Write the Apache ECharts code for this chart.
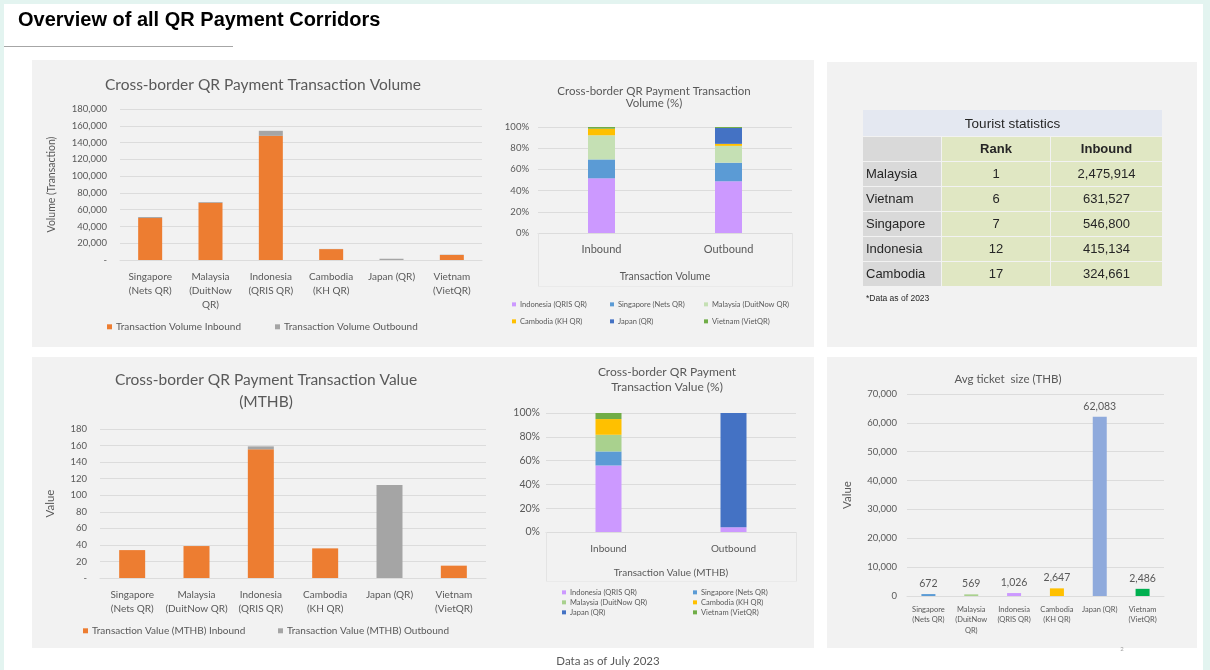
<!DOCTYPE html>
<html>
<head>
<meta charset="utf-8">
<script src="https://cdn.jsdelivr.net/npm/echarts@6/dist/echarts.min.js"></script>
<style>
html,body{margin:0;padding:0;background:#e3f4f0;}
#page{position:absolute;left:4px;top:4px;width:1199px;height:666px;background:#fff;}
.panel{position:absolute;background:#f2f2f2;}
#uline{position:absolute;left:4px;top:46px;width:229px;height:1px;background:#a6a6a6;}
#c{position:absolute;left:0;top:0;width:1210px;height:670px;}
</style>
</head>
<body>
<div id="page"></div>
<div class="panel" style="left:32px;top:60px;width:782px;height:287px;"></div>
<div class="panel" style="left:827px;top:62px;width:370px;height:285px;"></div>
<div class="panel" style="left:32px;top:357px;width:782px;height:291px;"></div>
<div class="panel" style="left:827px;top:357px;width:370px;height:291px;"></div>
<div id="uline"></div>
<div id="c"></div>
<script>
// ---------------- DATA ----------------
const volCategories = ['Singapore\n(Nets QR)', 'Malaysia\n(DuitNow\nQR)', 'Indonesia\n(QRIS QR)', 'Cambodia\n(KH QR)', 'Japan (QR)', 'Vietnam\n(VietQR)'];
const volInbound = [50000, 68200, 148000, 13000, 0, 6000];
const volOutbound = [1200, 900, 6000, 200, 1500, 300];

const valCategories = ['Singapore\n(Nets QR)', 'Malaysia\n(DuitNow QR)', 'Indonesia\n(QRIS QR)', 'Cambodia\n(KH QR)', 'Japan (QR)', 'Vietnam\n(VietQR)'];
const valInbound = [33.7, 38.6, 155.5, 35.8, 0, 14.9];
const valOutbound = [0, 0, 3.5, 0, 112.5, 0];

const shareCategories = ['Inbound', 'Outbound'];
const shareSeriesNames = ['Indonesia (QRIS QR)', 'Singapore (Nets QR)', 'Malaysia (DuitNow QR)', 'Cambodia (KH QR)', 'Japan (QR)', 'Vietnam (VietQR)'];
const volShareInbound = [51.6, 17.8, 22.8, 6.2, 0, 1.6];
const volShareOutbound = [48.8, 17.5, 15.9, 1.9, 15.0, 0.9];
const valShareInbound = [55.9, 11.8, 14.0, 13.2, 0, 5.1];
const valShareOutbound = [4.0, 0, 0, 0, 96.0, 0];

const ticketCategories = ['Singapore\n(Nets QR)', 'Malaysia\n(DuitNow\nQR)', 'Indonesia\n(QRIS QR)', 'Cambodia\n(KH QR)', 'Japan (QR)', 'Vietnam\n(VietQR)'];
const ticketValues = [672, 569, 1026, 2647, 62083, 2486];

const touristCountries = ['Malaysia', 'Vietnam', 'Singapore', 'Indonesia', 'Cambodia'];
const touristRanks = [1, 6, 7, 12, 17];
const touristInbound = [2475914, 631527, 546800, 415134, 324661];

// ---------------- STYLE ----------------
const FONT = 'Lato, "Noto Sans", sans-serif';
const ARIAL = '"Liberation Sans", Arial, sans-serif';
const TXT = '#595959';
const GL = '#dcdcdc';
const ORANGE = '#ed7d31', GRAY = '#a5a5a5';
const volShareColors = ['#cc99ff', '#5b9bd5', '#c5e0b4', '#ffc000', '#4472c4', '#70ad47'];
const valShareColors = ['#cc99ff', '#5b9bd5', '#a9d18e', '#ffc000', '#4472c4', '#70ad47'];
const ticketColors = ['#5b9bd5', '#a9d18e', '#cc99ff', '#ffc000', '#8faadc', '#00b050'];

const comma = v => Number(v).toLocaleString('en-US');
const dashZero = v => v === 0 ? '-' : comma(v);
const pct = v => v + '%';

function catAxis(gi, data, fs, lh, margin, extra) {
  return Object.assign({
    type: 'category', gridIndex: gi, data: data,
    axisTick: {show: false},
    axisLine: {lineStyle: {color: GL}},
    axisLabel: {color: TXT, fontSize: fs, lineHeight: lh, margin: margin, fontFamily: FONT, interval: 0}
  }, extra || {});
}
function valAxis(gi, max, interval, fmt, fs, margin, extra) {
  return Object.assign({
    type: 'value', gridIndex: gi, min: 0, max: max, interval: interval,
    axisLine: {show: false}, axisTick: {show: false},
    splitLine: {lineStyle: {color: GL}},
    axisLabel: {color: TXT, fontSize: fs, margin: margin, fontFamily: FONT, formatter: fmt}
  }, extra || {});
}
function axisName(name, gap, fs) {
  return {name: name, nameLocation: 'middle', nameGap: gap,
    nameTextStyle: {color: TXT, fontSize: fs, fontFamily: FONT}};
}
function leg(name, left, cy, color, fs, size) {
  return {
    data: [{name: name, itemStyle: {color: color}}],
    left: left, top: cy - fs * 0.62, padding: 0, itemGap: 0,
    itemWidth: size, itemHeight: size, icon: 'rect', selectedMode: false,
    textStyle: {color: TXT, fontSize: fs, fontFamily: FONT, padding: [0, 0, 0, -1]}
  };
}
function ttl(text, x, top, fs, lh) {
  return {text: text, left: x, top: top, textAlign: 'center', padding: 0,
    textStyle: {color: TXT, fontSize: fs, fontWeight: 'normal', fontFamily: FONT, lineHeight: lh}};
}

// ---------------- SERIES ----------------
const series = [
  {type: 'bar', name: 'Transaction Volume Inbound', xAxisIndex: 0, yAxisIndex: 0, stack: 'vol', barWidth: 24, data: volInbound, itemStyle: {color: ORANGE}},
  {type: 'bar', name: 'Transaction Volume Outbound', xAxisIndex: 0, yAxisIndex: 0, stack: 'vol', barWidth: 24, data: volOutbound, itemStyle: {color: GRAY}},
  {type: 'bar', name: 'Transaction Value (MTHB) Inbound', xAxisIndex: 2, yAxisIndex: 2, stack: 'val', barWidth: 26, data: valInbound, itemStyle: {color: ORANGE}},
  {type: 'bar', name: 'Transaction Value (MTHB) Outbound', xAxisIndex: 2, yAxisIndex: 2, stack: 'val', barWidth: 26, data: valOutbound, itemStyle: {color: GRAY}},
  {type: 'bar', name: 'Avg ticket size', xAxisIndex: 4, yAxisIndex: 4, barWidth: 14,
    data: ticketValues.map((v, i) => ({value: v, itemStyle: {color: ticketColors[i]}})),
    label: {show: true, position: 'top', distance: 5, color: TXT, fontSize: 10.5, fontFamily: FONT, formatter: p => comma(p.value)}}
];
shareSeriesNames.forEach((n, i) => {
  series.push({type: 'bar', name: n, xAxisIndex: 1, yAxisIndex: 1, stack: 'vs', barWidth: 27,
    data: [volShareInbound[i], volShareOutbound[i]], itemStyle: {color: volShareColors[i]}});
});
shareSeriesNames.forEach((n, i) => {
  series.push({type: 'bar', name: n, xAxisIndex: 3, yAxisIndex: 3, stack: 'ws', barWidth: 26,
    data: [valShareInbound[i], valShareOutbound[i]], itemStyle: {color: valShareColors[i]}});
});

// ---------------- LEGENDS ----------------
const legends = [
  leg('Transaction Volume Inbound', 107, 328, ORANGE, 10, 5),
  leg('Transaction Volume Outbound', 275, 328, GRAY, 10, 5),
  leg('Transaction Value (MTHB) Inbound', 83, 632, ORANGE, 10, 5),
  leg('Transaction Value (MTHB) Outbound', 278, 632, GRAY, 10, 5)
];
const volLegCols = [512, 610, 704], volLegRows = [305, 322];
shareSeriesNames.forEach((n, i) => {
  legends.push(leg(n, volLegCols[i % 3], volLegRows[Math.floor(i / 3)], volShareColors[i], 7.5, 4));
});
const valLegCols = [562, 693], valLegRows = [593, 603, 613];
shareSeriesNames.forEach((n, i) => {
  legends.push(leg(n, valLegCols[i % 2], valLegRows[Math.floor(i / 2)], valShareColors[i], 7.5, 4));
});

// ---------------- TABLE (graphic) ----------------
const graphics = [];
const TB = {x: 863, y: 110, w: 299, titleH: 26, rowH: 25, colX: [863, 942, 1051], colW: [78, 108, 111]};
const TGREY = '#d9d9d9', TGREEN = '#e0e7c3', TBLUE = '#e4e8f1', TTXT = '#262626';
function txt(text, x, y, size, align, weight) {
  return {type: 'text', z: 10, style: {text: text, x: x, y: y, fill: TTXT,
    font: (weight || 'normal') + ' ' + size + 'px ' + ARIAL,
    align: align, verticalAlign: 'middle', textAlign: align, textVerticalAlign: 'middle'}};
}
function cell(x, y, w, h, fill) {
  return {type: 'rect', z: 9, shape: {x: x, y: y, width: w, height: h}, style: {fill: fill}};
}
graphics.push(cell(TB.x, TB.y, TB.w, TB.titleH, TBLUE));
graphics.push(txt('Tourist statistics', TB.x + TB.w / 2, TB.y + TB.titleH / 2 + 1, 13.5, 'center'));
const headY = TB.y + TB.titleH + 1;
graphics.push(cell(TB.colX[0], headY, TB.colW[0], TB.rowH - 1, TGREY));
graphics.push(cell(TB.colX[1], headY, TB.colW[1], TB.rowH - 1, TGREEN));
graphics.push(cell(TB.colX[2], headY, TB.colW[2], TB.rowH - 1, TGREEN));
graphics.push(txt('Rank', TB.colX[1] + TB.colW[1] / 2, headY + 12, 13, 'center', 'bold'));
graphics.push(txt('Inbound', TB.colX[2] + TB.colW[2] / 2, headY + 12, 13, 'center', 'bold'));
touristCountries.forEach((c, i) => {
  const y = headY + TB.rowH * (i + 1);
  graphics.push(cell(TB.colX[0], y, TB.colW[0], TB.rowH - 1, TGREY));
  graphics.push(cell(TB.colX[1], y, TB.colW[1], TB.rowH - 1, TGREEN));
  graphics.push(cell(TB.colX[2], y, TB.colW[2], TB.rowH - 1, TGREEN));
  graphics.push(txt(c, TB.colX[0] + 3, y + 12.5, 13, 'left'));
  graphics.push(txt(String(touristRanks[i]), TB.colX[1] + TB.colW[1] / 2, y + 12.5, 13, 'center'));
  graphics.push(txt(comma(touristInbound[i]), TB.colX[2] + TB.colW[2] / 2, y + 12.5, 13, 'center'));
});
graphics.push(txt('*Data as of 2023', 866, 299, 8.5, 'left'));

// multi-level category separators for the two % charts (very faint)
function vline(x, y1, y2) {
  return {type: 'line', z: 1, shape: {x1: x, y1: y1, x2: x, y2: y2}, style: {stroke: '#e4e4e4', lineWidth: 1}};
}
function hline(x1, x2, y) {
  return {type: 'line', z: 1, shape: {x1: x1, y1: y, x2: x2, y2: y}, style: {stroke: '#eaeaea', lineWidth: 1}};
}
graphics.push(vline(538.5, 233, 287), vline(792.5, 233, 287), hline(538, 793, 286.5));
graphics.push(vline(546.5, 532, 582), vline(796.5, 532, 582), hline(546, 797, 581.5));

// footer texts
graphics.push({type: 'text', z: 10, style: {text: 'Data as of July 2023', x: 608, y: 661, fill: TXT,
  font: 'normal 11.5px ' + FONT, align: 'center', verticalAlign: 'middle', textAlign: 'center', textVerticalAlign: 'middle'}});
graphics.push({type: 'text', z: 10, style: {text: '2', x: 1122, y: 649, fill: '#a0a0a0',
  font: 'normal 6px ' + FONT, align: 'center', verticalAlign: 'middle', textAlign: 'center', textVerticalAlign: 'middle'}});

// ---------------- OPTION ----------------
const option = {
  backgroundColor: 'transparent',
  animation: false,
  textStyle: {fontFamily: FONT},
  title: [
    {text: 'Overview of all QR Payment Corridors', left: 18, top: 10, padding: 0,
      textStyle: {fontFamily: ARIAL, fontWeight: 'bold', fontSize: 20, color: '#000'}},
    ttl('Cross-border QR Payment Transaction Volume', 263, 75, 15.5, 19),
    ttl('Cross-border QR Payment Transaction\nVolume (%)', 654, 85, 11.5, 12),
    ttl('Cross-border QR Payment Transaction Value\n(MTHB)', 266, 369, 15.5, 22),
    ttl('Cross-border QR Payment\nTransaction Value (%)', 667, 365, 12, 15),
    ttl('Avg ticket  size (THB)', 1008, 372, 11.5, 14)
  ],
  legend: legends,
  grid: [
    {left: 120, top: 109, width: 362, height: 151},
    {left: 538, top: 127, width: 254, height: 106},
    {left: 100, top: 429, width: 386, height: 149},
    {left: 546, top: 413, width: 250, height: 119},
    {left: 907, top: 394, width: 257, height: 202}
  ],
  xAxis: [
    catAxis(0, volCategories, 10, 14, 10),
    catAxis(1, shareCategories, 11, 13, 10, axisName('Transaction Volume', 38, 10.5)),
    catAxis(2, valCategories, 10, 14, 10),
    catAxis(3, shareCategories, 10, 13, 10, axisName('Transaction Value (MTHB)', 36, 10)),
    catAxis(4, ticketCategories, 7.5, 10.5, 8)
  ],
  yAxis: [
    valAxis(0, 180000, 20000, dashZero, 9.5, 13, axisName('Volume (Transaction)', 63, 10.5)),
    valAxis(1, 100, 20, pct, 9.5, 9),
    valAxis(2, 180, 20, dashZero, 9.5, 13, axisName('Value', 44, 11.5)),
    valAxis(3, 100, 20, pct, 10.5, 6),
    valAxis(4, 70000, 10000, comma, 9.5, 10, axisName('Value', 54, 11.5))
  ],
  series: series,
  graphic: {elements: graphics}
};

const chart = echarts.init(document.getElementById('c'), null, {renderer: 'canvas'});
chart.setOption(option);
</script>
</body>
</html>
